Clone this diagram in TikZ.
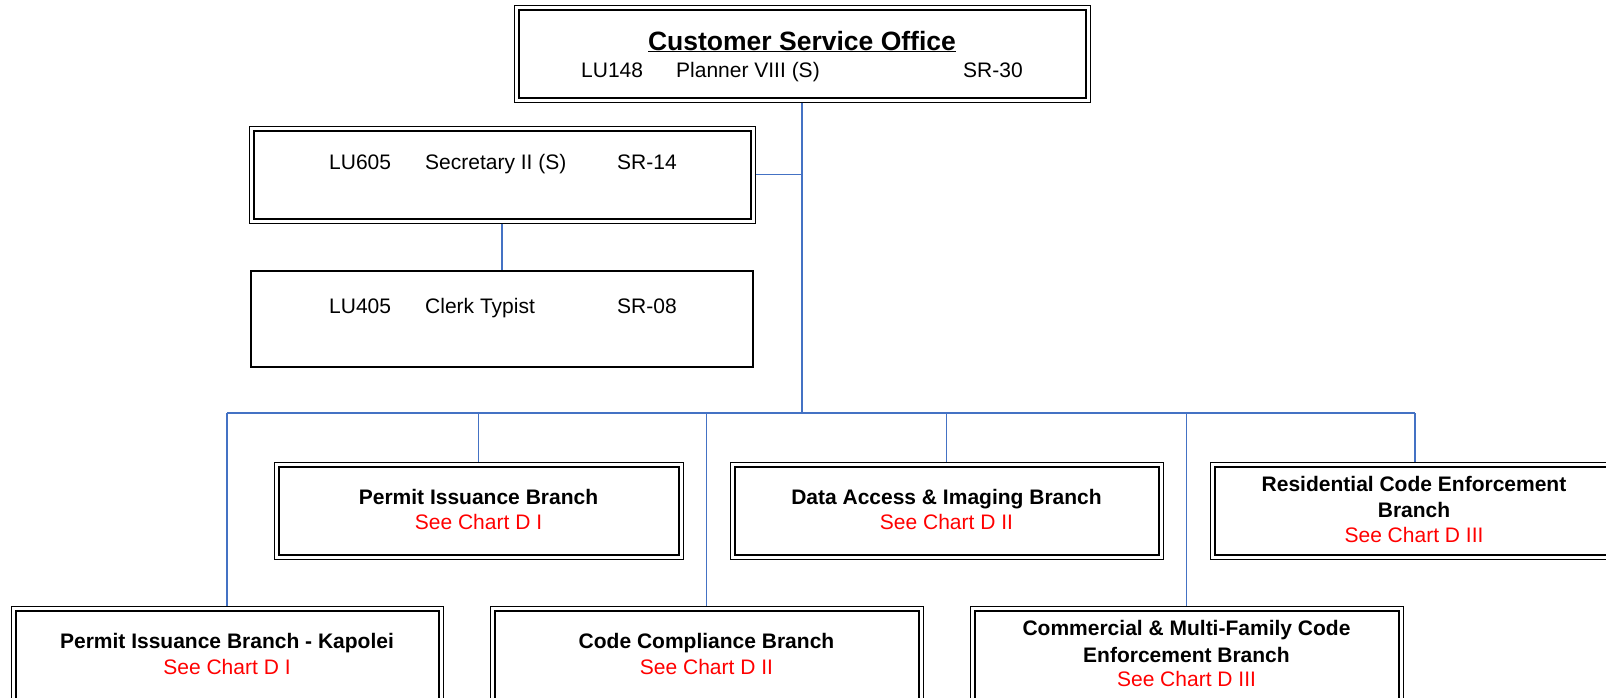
\documentclass[tikz,border=0pt]{standalone}
\usepackage{fontspec}
\setmainfont{Liberation Sans}
\definecolor{connblue}{HTML}{4472C4}
\definecolor{chartred}{HTML}{FF0000}
\tikzset{
  obox/.style={draw=black, line width=1pt, inner sep=0pt, minimum height=97pt},
  ibox/.style={draw=black, line width=2pt},
  sbox/.style={draw=black, line width=1.3pt, inner sep=0pt, minimum height=96pt},
  conn/.style={draw=connblue, line width=1.6pt},
  trunkline/.style={draw=connblue, line width=2.2pt},
  regtext/.style={font=\fontsize{21}{25}\selectfont, inner sep=0pt, anchor=base west},
  boldtext/.style={font=\fontsize{21}{25}\selectfont\bfseries, inner sep=0pt, anchor=base},
  seechart/.style={font=\fontsize{21}{25}\selectfont, text=chartred, inner sep=0pt, anchor=base},
  titletext/.style={font=\fontsize{26.5}{30}\selectfont\bfseries, inner sep=0pt, anchor=base},
}
\begin{document}
\begin{tikzpicture}[x=1pt,y=-1pt]
\useasboundingbox (0,0) rectangle (1606,697);
\fill[white] (0,0) rectangle (1606,697);
% boxes
\node[obox, minimum width=576pt] (top) at (802,53.5) {};
\node[obox, minimum width=506pt] (sec) at (502,174.5) {};
\node[sbox, minimum width=502pt] (clerk) at (502,319) {};
\node[obox, minimum width=409pt] (pib) at (478.5,510.5) {};
\node[obox, minimum width=433pt] (dai) at (946.5,510.5) {};
\node[obox, minimum width=410pt] (rce) at (1415,510.5) {};
\node[obox, minimum width=432pt] (kap) at (227,654.5) {};
\node[obox, minimum width=433pt] (ccb) at (706.5,654.5) {};
\node[obox, minimum width=433pt] (cmf) at (1186.5,654.5) {};
\foreach \n in {top,sec,pib,dai,rce,kap,ccb,cmf}
  \draw[ibox] ([shift={(5pt,-5pt)}]\n.north west) rectangle ([shift={(-5pt,5pt)}]\n.south east);
% texts
\node[titletext] (t1) at (802,50) {\underline{Customer Service Office}};
\node[regtext] (t2a) at (581,77) {LU148};
\node[regtext] (t2b) at (676,77) {Planner VIII (S)};
\node[regtext] (t2c) at (963,77) {SR-30};
\node[regtext] (s1) at (329,169) {LU605};
\node[regtext] (s2) at (425,169) {Secretary II (S)};
\node[regtext] (s3) at (617,169) {SR-14};
\node[regtext] (c1) at (329,313) {LU405};
\node[regtext] (c2) at (425,313) {Clerk Typist};
\node[regtext] (c3) at (617,313) {SR-08};
\node[boldtext] (p1) at (478.5,504) {Permit Issuance Branch};
\node[seechart] (p2) at (478.5,529) {See Chart D I};
\node[boldtext] (d1) at (946.5,504) {Data Access \& Imaging Branch};
\node[seechart] (d2) at (946.5,529) {See Chart D II};
\node[boldtext] (r1) at (1414,491) {Residential Code Enforcement};
\node[boldtext] (r2) at (1414,517) {Branch};
\node[seechart] (r3) at (1414,542) {See Chart D III};
\node[boldtext] (k1) at (227,648) {Permit Issuance Branch - Kapolei};
\node[seechart] (k2) at (227,674) {See Chart D I};
\node[boldtext] (cc1) at (706.5,648) {Code Compliance Branch};
\node[seechart] (cc2) at (706.5,674) {See Chart D II};
\node[boldtext] (m1) at (1186.5,635) {Commercial \& Multi-Family Code};
\node[boldtext] (m2) at (1186.5,662) {Enforcement Branch};
\node[seechart] (m3) at (1186.5,686) {See Chart D III};
% connectors
\coordinate (bus) at (802,413);
\draw[trunkline] (top.south) -- (bus);
\draw[conn] (sec.east) -- (sec.east -| top.south);
\draw[conn] (sec.south) -- (clerk.north);
\draw[conn] (kap.north |- bus) -- (rce.north |- bus);
\foreach \n in {kap,pib,ccb,dai,cmf,rce}
  \draw[conn] (\n.north |- bus) -- (\n.north);
\end{tikzpicture}
\end{document}
